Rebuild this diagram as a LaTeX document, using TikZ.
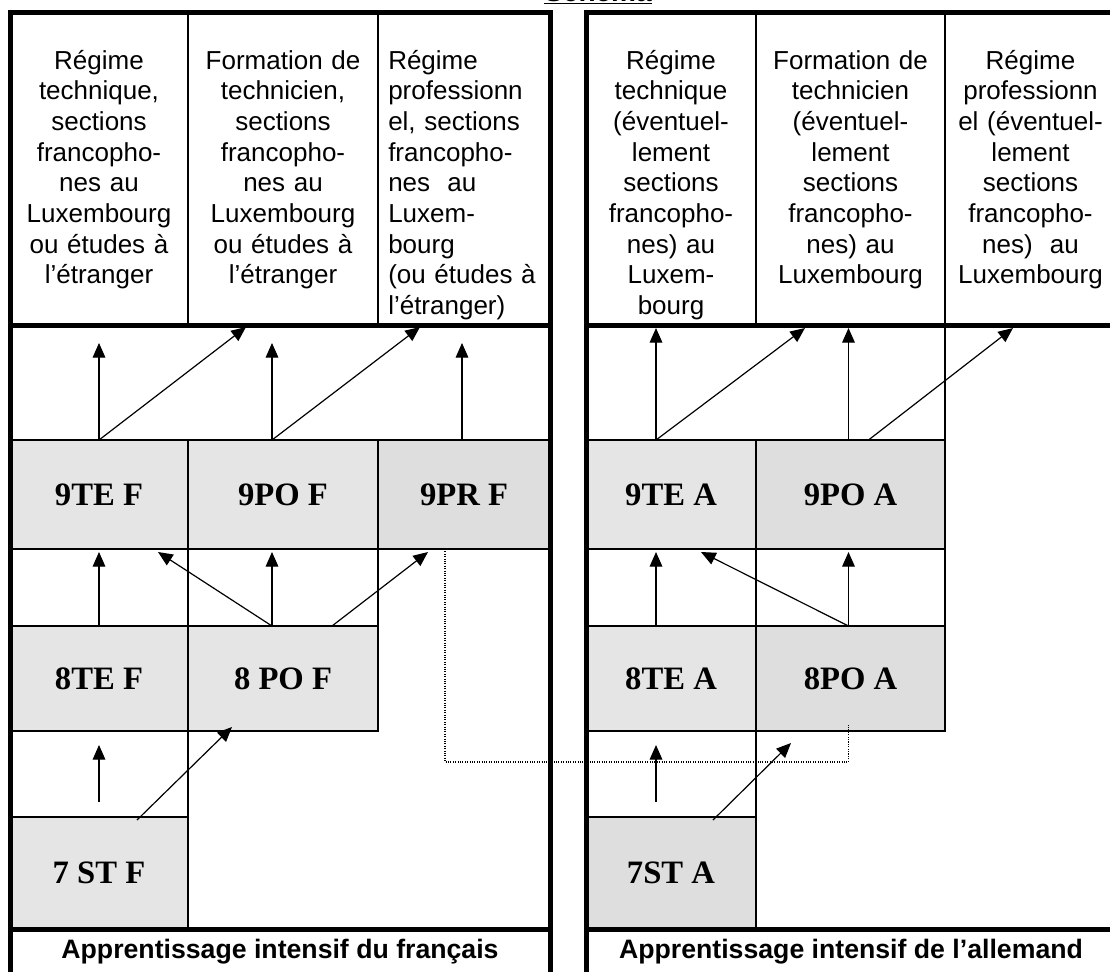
\documentclass[tikz,border=0pt]{standalone}
\usepackage{fontspec}
\setmainfont{Liberation Serif}
\setsansfont{Liberation Sans}
\usetikzlibrary{arrows.meta,calc}

\definecolor{cellgray}{RGB}{229,229,229}
\definecolor{cellgrayd}{RGB}{222,222,222}

\tikzset{
  frame/.style={line width=3.75pt},
  cell/.style={draw, line width=1pt, inner sep=0pt, outer sep=0pt, font=\bfseries\fontsize{24.5}{28}\selectfont},
  row9/.style={minimum height=81.75pt},
  row8/.style={minimum height=78.75pt},
  row7/.style={minimum height=84pt},
  hdr/.style={draw, line width=1pt, inner sep=0pt, outer sep=0pt, minimum height=234.75pt},
  hdrtext/.style={anchor=base, inner sep=0pt, align=center, font=\sffamily\fontsize{19.5}{23}\selectfont},
  foottext/.style={anchor=base, inner sep=0pt, font=\sffamily\bfseries\fontsize{20}{23}\selectfont},
  arr/.style={-{Triangle[length=11pt,width=9.5pt]}, line width=0.9pt},
  dotline/.style={densely dotted, line width=0.8pt}
}

\begin{document}
\begin{tikzpicture}[x=0.75pt,y=0.75pt,yscale=-1,xscale=1]
    \useasboundingbox (0,0) rectangle (1110,972);
    \clip (0,0) rectangle (1110,972);

    % Text Node
    \node [anchor=base, inner sep=0pt, font=\sffamily\bfseries\fontsize{21}{24}\selectfont] (title) at (598,1) {\underline{Schema}};

    %Shape: header cells, French side
    \node [hdr, minimum width=133.5pt] (hf1) at (99,168.5) {};
    \node [hdr, minimum width=142.5pt] (hf2) at (283,168.5) {};
    \node [hdr, minimum width=129pt] (hf3) at (464,168.5) {};
    %Shape: header cells, German side
    \node [hdr, minimum width=127.5pt] (ha1) at (671,168.5) {};
    \node [hdr, minimum width=141.75pt] (ha2) at (850.5,168.5) {};
    \node [hdr, minimum width=128.25pt] (ha3) at (1030.5,168.5) {};

    % Text Node
    \node [hdrtext, text width=127.5pt] (tf1) at (99,69) {Régime\\technique,\\sections\\francopho-\\nes au\\Luxembourg\\ou études à\\l’étranger};
    % Text Node
    \node [hdrtext, text width=138pt] (tf2) at (283,69) {Formation de\\technicien,\\sections\\francopho-\\nes au\\Luxembourg\\ou études à\\l’étranger};
    % Text Node
    \node [hdrtext, anchor=base west, align=left, text width=123pt] (tf3) at (388,69) {Régime\\professionn\\el, sections\\francopho-\\nes~ au\\Luxem-\\bourg\\(ou études à\\l’étranger)};
    % Text Node
    \node [hdrtext, text width=123pt] (ta1) at (671,69) {Régime\\technique\\(éventuel-\\lement\\sections\\francopho-\\nes) au\\Luxem-\\bourg};
    % Text Node
    \node [hdrtext, text width=138pt] (ta2) at (850.5,69) {Formation de\\technicien\\(éventuel-\\lement\\sections\\francopho-\\nes) au\\Luxembourg};
    % Text Node
    \node [hdrtext, text width=124pt] (ta3) at (1030.5,69) {Régime\\professionn\\el (éventuel-\\lement\\sections\\francopho-\\nes)~ au\\Luxembourg};

    %Shape: classes, French side
    \node [cell, row9, fill=cellgray, minimum width=133.5pt] (te9f) at (99,494.5) {9TE F};
    \node [cell, row9, fill=cellgray, minimum width=142.5pt] (po9f) at (283,494.5) {9PO F};
    \node [cell, row9, fill=cellgrayd, minimum width=129pt] (pr9f) at (464,494.5) {9PR F};
    \node [cell, row8, fill=cellgray, minimum width=133.5pt] (te8f) at (99,678.5) {8TE F};
    \node [cell, row8, fill=cellgray, minimum width=142.5pt] (po8f) at (283,678.5) {8 PO F};
    \node [cell, row7, fill=cellgray, minimum width=133.5pt] (st7f) at (99,873) {7 ST F};
    %Shape: classes, German side
    \node [cell, row9, fill=cellgray, minimum width=127.5pt] (te9a) at (671,494.5) {9TE A};
    \node [cell, row9, fill=cellgrayd, minimum width=141.75pt] (po9a) at (850.5,494.5) {9PO A};
    \node [cell, row8, fill=cellgray, minimum width=127.5pt] (te8a) at (671,678.5) {8TE A};
    \node [cell, row8, fill=cellgrayd, minimum width=141.75pt] (po8a) at (850.5,678.5) {8PO A};
    \node [cell, row7, fill=cellgrayd, minimum width=127.5pt] (st7a) at (671,873) {7ST A};

    %Straight Lines: dividers between the rows
    \draw [line width=1pt] (po9f.south west) -- (po8f.north west);
    \draw [line width=1pt] (pr9f.south west) -- (po8f.north east);
    \draw [line width=1pt] (te8f.south east) -- (st7f.north east);
    \draw [line width=1pt] (po9a.south west) -- (po8a.north west);
    \draw [line width=1pt] (ha3.south west) -- (po9a.north east);
    \draw [line width=1pt] (po9a.south east) -- (po8a.north east);
    \draw [line width=1pt] (te8a.south east) -- (st7a.north east);

    %Arrows, French side
    \draw [arr] (te9f.north) -- ($(te9f.north)+(0,-97)$);
    \draw [arr] (te9f.north) -- ($(hf2.south west)+(58,2)$);
    \draw [arr] ($(po9f.north)+(-11,0)$) -- ($(po9f.north)+(-11,-97)$);
    \draw [arr] ($(po9f.north)+(-11,0)$) -- ($(hf3.south west)+(42,2)$);
    \draw [arr] ($(pr9f.north)+(-2,0)$) -- ($(pr9f.north)+(-2,-97)$);
    \draw [arr] (te8f.north) -- ($(te9f.south)+(0,3)$);
    \draw [arr] ($(po8f.north)+(-11,0)$) -- ($(te9f.south)+(59,3)$);
    \draw [arr] ($(po8f.north)+(-11,0)$) -- ($(po9f.south)+(-11,3)$);
    \draw [arr] ($(po8f.north)+(49,0)$) -- ($(pr9f.south west)+(50,3)$);
    \draw [arr] ($(st7f.north)+(0,-15)$) -- ($(te8f.south)+(0,14)$);
    \draw [arr] ($(st7f.north)+(38,3)$) -- ($(po8f.south west)+(44,-4)$);
    %Arrows, German side
    \draw [arr] ($(te9a.north)+(-15,0)$) -- ($(ha1.south)+(-15,3)$);
    \draw [arr] ($(te9a.north)+(-15,0)$) -- ($(ha2.south west)+(49,3)$);
    \draw [arr] ($(po9a.north)+(-2,0)$) -- ($(ha2.south)+(-2,3)$);
    \draw [arr] ($(po9a.north)+(18,0)$) -- ($(ha3.south west)+(68,3)$);
    \draw [arr] ($(te8a.north)+(-15,0)$) -- ($(te9a.south)+(-15,3)$);
    \draw [arr] ($(po8a.north)+(-2,0)$) -- ($(te9a.south east)+(-55,3)$);
    \draw [arr] ($(po8a.north)+(-2,0)$) -- ($(po9a.south)+(-2,3)$);
    \draw [arr] ($(st7a.north)+(-15,-15)$) -- ($(te8a.south)+(-15,14)$);
    \draw [arr] ($(st7a.north)+(42,3)$) -- ($(po8a.south west)+(35,12)$);

    %Dotted link 9PR F to 8PO A
    \draw [dotline] ($(pr9f.south)+(-19,0)$) |- ($(po8a.south)+(-2,31)$) -- ($(po8a.south)+(-2,-7)$);

    %Shape: panel frames
    \draw [frame] (10,972) -- (10,12) -- (550,12) -- (550,972);
    \draw [frame] (10,325) -- (550,325);
    \draw [frame] (10,929) -- (550,929);
    \draw [frame] (586,972) -- (586,12) -- (1130,12);
    \draw [frame] (586,325) -- (1130,325);
    \draw [frame] (586,929) -- (1130,929);

    % Text Node
    \node [foottext] (footf) at (280,958) {Apprentissage intensif du français};
    % Text Node
    \node [foottext] (foota) at (851,958) {Apprentissage intensif de l’allemand};

\end{tikzpicture}
\end{document}
